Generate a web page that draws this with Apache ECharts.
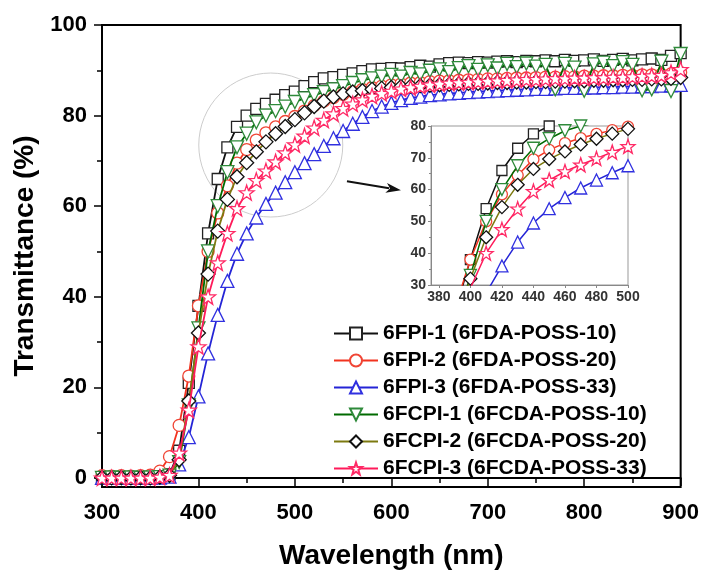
<!DOCTYPE html>
<html>
<head>
<meta charset="utf-8">
<title>Transmittance</title>
<script src="https://cdn.jsdelivr.net/npm/echarts@6/dist/echarts.min.js"></script>
<style>
    html, body { margin: 0; padding: 0; background: #fff; }
    #chart { width: 702px; height: 575px; }
</style>
</head>
<body>
<div id="chart"></div>
<script>
// Data
// ------------------------------

var wavelengths = [300, 310, 320, 330, 340, 350, 360, 370, 380, 390,
    400, 410, 420, 430, 440, 450, 460, 470, 480, 490,
    500, 510, 520, 530, 540, 550, 560, 570, 580, 590,
    600, 610, 620, 630, 640, 650, 660, 670, 680, 690,
    700, 710, 720, 730, 740, 750, 760, 770, 780, 790,
    800, 810, 820, 830, 840, 850, 860, 870, 880, 890, 900];

var fpi1 = [0.2, 0.1, 0.2, 0.1, 0.2, 0.1, 0.3, 0.8, 6, 21,
    38, 54, 66, 73, 77.5, 80, 81.5, 82.6, 83.5, 84.5,
    85.3, 86.5, 87.4, 88.2, 88.5, 89, 89.3, 89.8, 90.2, 90.3,
    90.5, 90.4, 90.7, 91, 90.8, 91.3, 91.6, 91.7, 91.6, 91.8,
    91.7, 91.9, 92, 91.8, 92.1, 92, 92.2, 92, 92.3, 92.1,
    92.2, 92.4, 92.1, 92.3, 92.5, 92.2, 92.4, 92.6, 92.3, 93.2, 93.8];

var fpi2 = [0.5, 0.4, 0.5, 0.4, 0.5, 0.6, 1.5, 4.7, 11.6, 22.5,
    38, 50, 58.5, 64.5, 69.5, 72.5, 74.6, 76.2, 77.5, 78.7,
    79.8, 81, 82.2, 83.2, 84, 84.7, 85.3, 85.8, 86.2, 86.5,
    86.8, 87, 87.2, 87.3, 87.5, 87.6, 87.7, 87.8, 87.9, 88,
    88.1, 88.1, 88.2, 88.3, 88.3, 88.4, 88.5, 88.5, 88.6, 88.6,
    88.7, 88.7, 88.8, 88.8, 88.9, 88.9, 89, 89, 89.1, 89.2, 89.5];

var fpi3 = [0, 0, 0, 0, 0, 0, 0.1, 0.3, 3, 9,
    18, 27.5, 36, 43.5, 49.5, 54, 57.5, 60.5, 63, 65.3,
    67.5, 69.5, 71.5, 73.3, 75, 76.6, 78.2, 79.7, 81, 82,
    82.8, 83.4, 83.9, 84.2, 84.5, 84.7, 84.9, 85, 85.2, 85.3,
    85.4, 85.5, 85.6, 85.7, 85.8, 85.9, 85.9, 86, 86.1, 86.1,
    86.2, 86.2, 86.3, 86.3, 86.4, 86.4, 86.5, 86.5, 86.6, 86.7, 86.8];

var fcpi1 = [0, 0.1, 0, 0.1, 0, 0.1, 0.2, 0.5, 3.5, 16,
    33, 50, 60, 67.5, 73, 76, 78.5, 80, 81, 82,
    83, 83.8, 84.5, 85.2, 85.8, 86.5, 87.2, 87.8, 88.2, 88.6,
    89, 88.6, 89.4, 89.1, 89.9, 90.2, 89.6, 90.5, 90.9, 90.1,
    91.1, 90.4, 91.4, 90.7, 91.5, 90.8, 91.2, 85.8, 91.4, 90.6,
    85.5, 91.3, 91.7, 90.9, 91.8, 91.2, 85.6, 85.8, 91.9, 85.4, 93.6];

var fcpi2 = [0.1, 0, 0.1, 0, 0.1, 0, 0.2, 0.6, 4, 17,
    32, 45, 54.5, 61.5, 66.5, 69.6, 72, 74.2, 76, 77.6,
    79.1, 80.6, 82, 83.2, 84.1, 84.8, 85.2, 85.5, 85.8, 86,
    86.2, 86.4, 86.5, 86.6, 86.7, 86.8, 86.9, 87, 87.1, 87.1,
    87.2, 87.3, 87.3, 87.4, 87.4, 87.5, 87.5, 87.6, 87.6, 87.7,
    87.7, 87.8, 87.8, 87.9, 87.9, 88, 88, 88.1, 88.1, 88.2, 88.4];

var fcpi3 = [0, 0, 0, 0, 0, 0, 0.2, 0.6, 5.5, 15,
    29, 40, 47.5, 54, 59.5, 63, 65.7, 67.8, 69.8, 71.8,
    73.6, 75.5, 77.3, 79, 80.4, 81.6, 82.6, 83.5, 84.3, 84.9,
    85.4, 85.9, 86.2, 86.5, 86.8, 87, 87.2, 87.3, 87.4, 87.5,
    87.6, 87.7, 87.8, 87.9, 88, 88, 88.1, 88.2, 88.2, 88.3,
    88.3, 88.4, 88.4, 88.5, 88.5, 88.6, 88.7, 88.8, 88.9, 89.5, 90.2];

var seriesNames = ['6FPI-1 (6FDA-POSS-10)', '6FPI-2 (6FDA-POSS-20)', '6FPI-3 (6FDA-POSS-33)',
    '6FCPI-1 (6FCDA-POSS-10)', '6FCPI-2 (6FCDA-POSS-20)', '6FCPI-3 (6FCDA-POSS-33)'];

var yTicks = [0, 20, 40, 60, 80, 100];
var yMinorTicks = [10, 30, 50, 70, 90];
var insetXTicks = [380, 400, 420, 440, 460, 480, 500];

// zoom circle and arrow anchors, in data units of the main plot
var circleCenter = [475, 73.5];
var arrowFrom = [554, 65.5];
var arrowTo = [610, 63.5];


// Setup chart
// ------------------------------

var chart = echarts.init(document.getElementById('chart'));
var font = '"Liberation Sans", Arial, sans-serif';

var starPath = 'path://M12,0 L14.9,8.6 L24,8.8 L16.8,14.3 L19.4,23.2 L12,18 L4.6,23.2 L7.2,14.3 L0,8.8 L9.1,8.6 Z';
var downTriangle = 'path://M0,0 L20,0 L10,18 Z';

var seriesStyles = [
    { symbol: 'rect', size: 11, line: '#111', border: '#222' },
    { symbol: 'circle', size: 12, line: '#f2331f', border: '#f04535' },
    { symbol: 'triangle', size: 13, line: '#2424d6', border: '#3030e0' },
    { symbol: downTriangle, size: 13, line: '#006a00', border: '#2e8a3a' },
    { symbol: 'diamond', size: 14, line: '#7d7a10', border: '#111' },
    { symbol: starPath, size: 15, line: '#ff1a5a', border: '#ff2a66' }
];

var allValues = [fpi1, fpi2, fpi3, fcpi1, fcpi2, fcpi3];

function pairs(values) {
    return wavelengths.map(function(w, i) {
        return [w, values[i]];
    });
}

var seriesList = [];
allValues.forEach(function(values, i) {
    var st = seriesStyles[i];
    // main plot, then the zoomed inset
    [0, 1].forEach(function(k) {
        seriesList.push({
            name: seriesNames[i],
            type: 'line',
            xAxisIndex: k,
            yAxisIndex: k === 0 ? 0 : 2,
            data: pairs(values),
            symbol: st.symbol,
            symbolSize: k === 0 ? st.size : st.size - 1,
            showSymbol: true,
            clip: true,
            lineStyle: { color: st.line, width: k === 0 ? 1.8 : 1.5 },
            itemStyle: { color: '#fff', borderColor: st.border, borderWidth: 1.3 },
            emphasis: { disabled: true },
            z: 2 + i
        });
    });
});

var tickLabel = { color: '#000', fontSize: 22, fontWeight: 'bold', fontFamily: font };
var insetLabel = { color: '#333', fontSize: 14, fontWeight: 'bold', fontFamily: font };

chart.setOption({
    animation: false,
    textStyle: { fontFamily: font },

    grid: [{
        left: 102, top: 25, width: 579, height: 467,
        show: true, borderColor: '#000', borderWidth: 2
    }, {
        left: 431, top: 126, width: 197, height: 159,
        show: true, backgroundColor: '#fff', borderColor: '#999', borderWidth: 1
    }],

    legend: {
        data: seriesNames,
        orient: 'vertical',
        left: 328,
        top: 318,
        itemGap: 6,
        itemWidth: 44,
        itemHeight: 15,
        textStyle: { color: '#000', fontSize: 21, fontWeight: 'bold', fontFamily: font }
    },

    xAxis: [{
        gridIndex: 0,
        type: 'value',
        min: 300, max: 900, interval: 100,
        name: 'Wavelength (nm)',
        nameLocation: 'middle',
        nameGap: 55,
        nameTextStyle: { color: '#000', fontSize: 28, fontWeight: 'bold', fontFamily: font },
        axisLine: { lineStyle: { color: '#000', width: 2 } },
        axisTick: { length: 8, lineStyle: { color: '#000', width: 1.5 } },
        minorTick: { show: true, splitNumber: 2, length: 5, lineStyle: { color: '#000', width: 1.5 } },
        axisLabel: Object.assign({ margin: 15 }, tickLabel),
        splitLine: { show: false }
    }, {
        gridIndex: 1,
        type: 'value',
        min: 375, max: 500,
        axisLine: { lineStyle: { color: '#888', width: 1 } },
        axisTick: { length: 3, customValues: insetXTicks, lineStyle: { color: '#888' } },
        axisLabel: Object.assign({ margin: 5, customValues: insetXTicks }, insetLabel),
        splitLine: { show: false }
    }],

    yAxis: [{
        gridIndex: 0,
        type: 'value',
        min: -2, max: 100,
        name: 'Transmittance (%)',
        nameLocation: 'middle',
        nameGap: 62,
        nameTextStyle: { color: '#000', fontSize: 28, fontWeight: 'bold', fontFamily: font },
        axisLine: { show: true, lineStyle: { color: '#000', width: 2 } },
        axisTick: { show: true, length: 8, customValues: yTicks, lineStyle: { color: '#000', width: 1.5 } },
        axisLabel: Object.assign({ margin: 15, customValues: yTicks }, tickLabel),
        splitLine: { show: false }
    }, {
        // minor ticks only
        gridIndex: 0,
        type: 'value',
        position: 'left',
        min: -2, max: 100,
        axisLine: { show: false },
        axisTick: { show: true, length: 5, customValues: yMinorTicks, lineStyle: { color: '#000', width: 1.5 } },
        axisLabel: { show: false },
        splitLine: { show: false }
    }, {
        gridIndex: 1,
        type: 'value',
        min: 30, max: 80, interval: 10,
        axisLine: { show: true, lineStyle: { color: '#888', width: 1 } },
        axisTick: { show: true, length: 3, lineStyle: { color: '#888' } },
        minorTick: { show: true, splitNumber: 2, length: 2, lineStyle: { color: '#888' } },
        axisLabel: Object.assign({ margin: 5 }, insetLabel),
        splitLine: { show: false }
    }],

    series: seriesList
});


// Zoom circle and arrow
// ------------------------------

var c = chart.convertToPixel({ gridIndex: 0 }, circleCenter);
var a = chart.convertToPixel({ gridIndex: 0 }, arrowFrom);
var b = chart.convertToPixel({ gridIndex: 0 }, arrowTo);
var ang = Math.atan2(b[1] - a[1], b[0] - a[0]);
var headLen = 15, headW = 5;
var base = [b[0] - headLen * Math.cos(ang), b[1] - headLen * Math.sin(ang)];
var p1 = [base[0] + headW * Math.sin(ang), base[1] - headW * Math.cos(ang)];
var p2 = [base[0] - headW * Math.sin(ang), base[1] + headW * Math.cos(ang)];

chart.setOption({
    graphic: [{
        type: 'circle',
        silent: true,
        z: 1,
        shape: { cx: c[0], cy: c[1], r: 72 },
        style: { fill: 'none', stroke: '#cccccc', lineWidth: 1 }
    }, {
        type: 'line',
        silent: true,
        shape: { x1: a[0], y1: a[1], x2: base[0] + 3 * Math.cos(ang), y2: base[1] + 3 * Math.sin(ang) },
        style: { stroke: '#111', lineWidth: 2 }
    }, {
        type: 'polygon',
        silent: true,
        shape: { points: [b, p1, [base[0] + 4 * Math.cos(ang), base[1] + 4 * Math.sin(ang)], p2] },
        style: { fill: '#111' }
    }]
});
</script>
</body>
</html>
